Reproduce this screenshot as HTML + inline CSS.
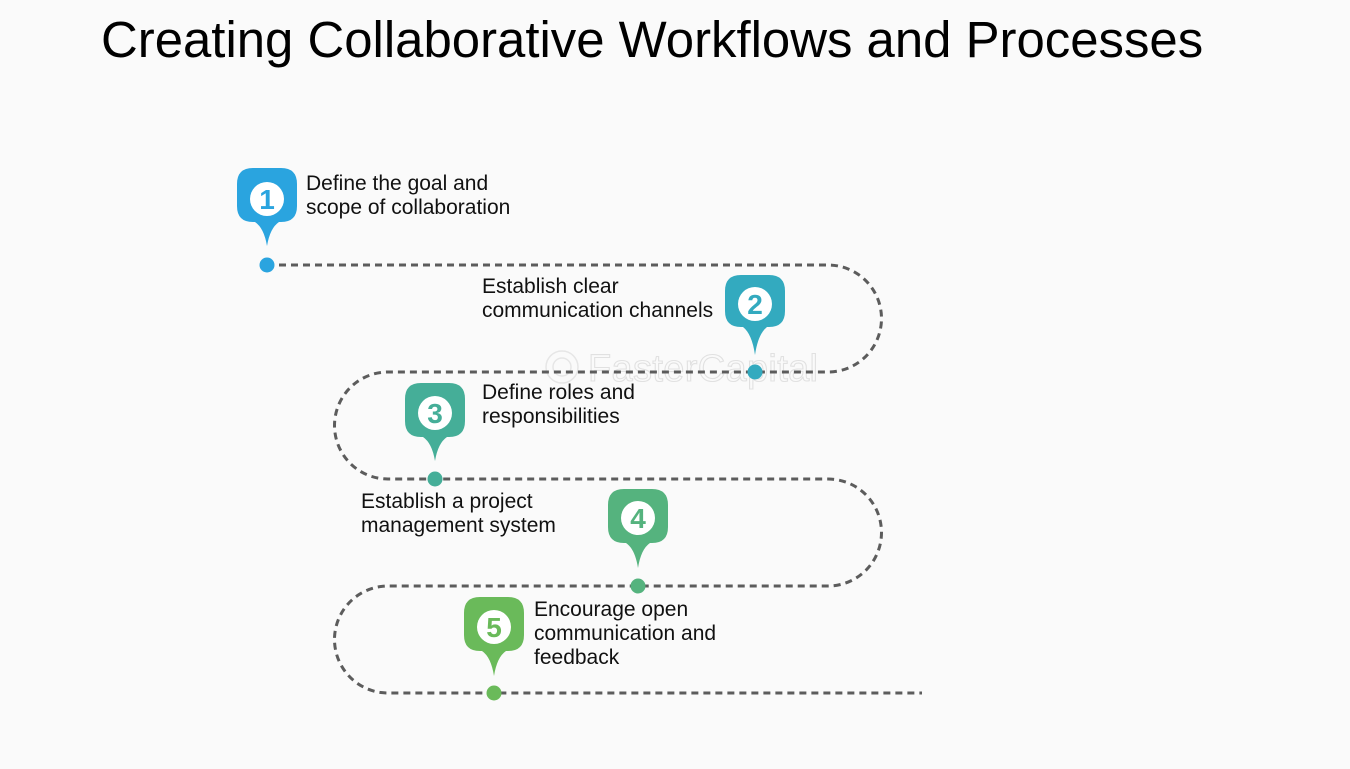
<!DOCTYPE html>
<html>
<head>
<meta charset="utf-8">
<style>
  html, body { margin:0; padding:0; }
  body { width:1350px; height:769px; background:#fafafa; overflow:hidden; position:relative; font-family:"Liberation Sans", Arial, sans-serif; }
  svg { position:absolute; left:0; top:0; }
</style>
</head>
<body>
<svg width="1350" height="769" viewBox="0 0 1350 769" xmlns="http://www.w3.org/2000/svg">
  <rect width="1350" height="769" fill="#fafafa"/>
  <text x="101" y="57" font-family="Liberation Sans, Arial, sans-serif" font-size="50.9" fill="#000">Creating Collaborative Workflows and Processes</text>

  <!-- watermark -->
  <g opacity="0.45">
    <circle cx="562" cy="367" r="16" fill="none" stroke="#cfcfcf" stroke-width="1.5"/>
    <circle cx="562" cy="367" r="9" fill="none" stroke="#cfcfcf" stroke-width="1.5"/>
    <text x="588" y="381" font-family="Liberation Sans, Arial, sans-serif" font-size="38" textLength="230" fill="none" stroke="#c4c4c4" stroke-width="1.1">FasterCapital</text>
  </g>

  <!-- dashed path -->
  <path d="M267 265 H828 A53.5 53.5 0 0 1 828 372 H388 A53.5 53.5 0 0 0 388 479 H828 A53.5 53.5 0 0 1 828 586 H388 A53.5 53.5 0 0 0 388 693 H922"
        fill="none" stroke="#5c5c5c" stroke-width="3" stroke-dasharray="7 5"/>

  <!-- pins -->
  <g>
    <path d="M253 168 H281 Q297 168 297 184 V206 Q297 222 281 222 H279 Q270 228 267 246 Q264 228 255 222 H253 Q237 222 237 206 V184 Q237 168 253 168 Z" fill="#2aa4df"/>
    <circle cx="267" cy="199" r="17" fill="#fff"/>
    <text x="267" y="209" text-anchor="middle" font-family="Liberation Sans, Arial, sans-serif" font-weight="bold" font-size="28" fill="#2aa4df">1</text>
    <circle cx="267" cy="265" r="7.5" fill="#2aa4df"/>

    <path d="M741 275 H769 Q785 275 785 291 V311 Q785 327 769 327 H767 Q758 334 755 355 Q752 334 743 327 H741 Q725 327 725 311 V291 Q725 275 741 275 Z" fill="#33aabf"/>
    <circle cx="755" cy="304" r="17" fill="#fff"/>
    <text x="755" y="314" text-anchor="middle" font-family="Liberation Sans, Arial, sans-serif" font-weight="bold" font-size="28" fill="#33aabf">2</text>
    <circle cx="755" cy="372" r="7.5" fill="#33aabf"/>

    <path d="M421 383 H449 Q465 383 465 399 V421 Q465 437 449 437 H447 Q438 443 435 461 Q432 443 423 437 H421 Q405 437 405 421 V399 Q405 383 421 383 Z" fill="#45ae98"/>
    <circle cx="435" cy="413" r="17" fill="#fff"/>
    <text x="435" y="423" text-anchor="middle" font-family="Liberation Sans, Arial, sans-serif" font-weight="bold" font-size="28" fill="#45ae98">3</text>
    <circle cx="435" cy="479" r="7.5" fill="#45ae98"/>

    <path d="M624 489 H652 Q668 489 668 505 V527 Q668 543 652 543 H650 Q641 549 638 568 Q635 549 626 543 H624 Q608 543 608 527 V505 Q608 489 624 489 Z" fill="#55b37e"/>
    <circle cx="638" cy="518" r="17" fill="#fff"/>
    <text x="638" y="528" text-anchor="middle" font-family="Liberation Sans, Arial, sans-serif" font-weight="bold" font-size="28" fill="#55b37e">4</text>
    <circle cx="638" cy="586" r="7.5" fill="#55b37e"/>

    <path d="M480 597 H508 Q524 597 524 613 V635 Q524 651 508 651 H506 Q497 657 494 676 Q491 657 482 651 H480 Q464 651 464 635 V613 Q464 597 480 597 Z" fill="#6aba5a"/>
    <circle cx="494" cy="627" r="17" fill="#fff"/>
    <text x="494" y="637" text-anchor="middle" font-family="Liberation Sans, Arial, sans-serif" font-weight="bold" font-size="28" fill="#6aba5a">5</text>
    <circle cx="494" cy="693" r="7.5" fill="#6aba5a"/>
  </g>

  <!-- labels -->
  <g font-family="Liberation Sans, Arial, sans-serif" font-size="21" fill="#111">
    <text x="306" y="190">Define the goal and</text>
    <text x="306" y="214">scope of collaboration</text>

    <text x="482" y="293">Establish clear</text>
    <text x="482" y="317">communication channels</text>

    <text x="482" y="399">Define roles and</text>
    <text x="482" y="423">responsibilities</text>

    <text x="361" y="508">Establish a project</text>
    <text x="361" y="532">management system</text>

    <text x="534" y="616">Encourage open</text>
    <text x="534" y="640">communication and</text>
    <text x="534" y="664">feedback</text>
  </g>
</svg>
</body>
</html>
